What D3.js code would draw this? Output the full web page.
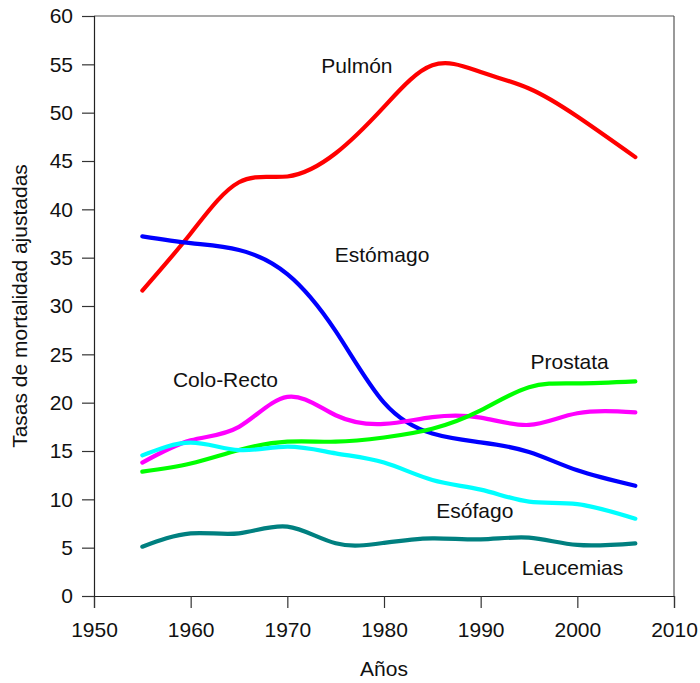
<!DOCTYPE html>
<html>
<head>
<meta charset="utf-8">
<script src="https://cdn.jsdelivr.net/npm/d3@7"></script>
<style>
  body { margin: 0; background: #fff; }
  text { font-family: "Liberation Sans", Arial, sans-serif; }
</style>
</head>
<body>
<div id="chart"></div>
<script>
// data
var years = [1955, 1960, 1965, 1970, 1975, 1980, 1985, 1990, 1995, 2000, 2006];

var pulmon    = [31.6, 37.5, 42.8, 43.4, 45.8, 50.6, 54.9, 54.2, 52.5, 49.6, 45.4];
var estomago  = [37.2, 36.5, 35.8, 33.3, 27.4, 20.0, 16.8, 15.9, 14.9, 13.0, 11.4];
var coloRecto = [13.8, 16.1, 17.5, 20.6, 18.7, 17.8, 18.5, 18.45, 17.7, 18.9, 19.0];
var prostata  = [12.86, 13.7, 15.1, 15.96, 15.96, 16.4, 17.3, 19.2, 21.6, 22.0, 22.2];
var esofago   = [14.55, 15.86, 15.1, 15.45, 14.76, 13.8, 12.0, 11.0, 9.76, 9.5, 8.0];
var leucemias = [5.1, 6.48, 6.48, 7.17, 5.45, 5.5, 5.97, 5.86, 6.03, 5.28, 5.45];

var seriesNames = ["Pulmón", "Estómago", "Colo-Recto", "Prostata", "Esófago", "Leucemias"];
var seriesValues = [pulmon, estomago, coloRecto, prostata, esofago, leucemias];
var seriesColors = ["#ff0000", "#0000ff", "#ff00ff", "#00ff00", "#00ffff", "#008080"];

// where each name is written (year, value)
var labelYears = [1977.2, 1979.8, 1963.6, 1999.2, 1989.4, 1999.5];
var labelValues = [54.1, 34.55, 21.6, 23.5, 8.07, 2.17];

var xTicks = [1950, 1960, 1970, 1980, 1990, 2000, 2010];
var yTicks = [0, 5, 10, 15, 20, 25, 30, 35, 40, 45, 50, 55, 60];

var width = 700, height = 683;
var margin = { top: 16, right: 26, bottom: 87, left: 94 };

var svg = d3.select("#chart")
  .append("svg")
    .attr("width", width)
    .attr("height", height);

var x = d3.scaleLinear()
  .domain([1950, 2010])
  .range([margin.left, width - margin.right]);

var y = d3.scaleLinear()
  .domain([0, 60])
  .range([height - margin.bottom, margin.top]);

// frame: top and right
svg.append("line")
  .attr("x1", x(1950)).attr("x2", x(2010))
  .attr("y1", y(60)).attr("y2", y(60))
  .attr("stroke", "#555").attr("stroke-width", 1.2);
svg.append("line")
  .attr("x1", x(2010)).attr("x2", x(2010))
  .attr("y1", y(60)).attr("y2", y(0))
  .attr("stroke", "#555").attr("stroke-width", 1.2);

var xAxis = svg.append("g")
  .attr("transform", "translate(0," + y(0) + ")")
  .call(d3.axisBottom(x).tickValues(xTicks).tickFormat(d3.format("d")).tickSize(12).tickPadding(14));

var yAxis = svg.append("g")
  .attr("transform", "translate(" + x(1950) + ",0)")
  .call(d3.axisLeft(y).tickValues(yTicks).tickSize(12).tickPadding(9));

[xAxis, yAxis].forEach(function(g) {
  g.select(".domain").attr("stroke", "#222").attr("stroke-width", 1.2);
  g.selectAll(".tick line").attr("stroke", "#333").attr("stroke-width", 1.2);
  g.selectAll(".tick text")
    .attr("fill", "#111")
    .style("font-size", "21px")
    .style("font-family", "'Liberation Sans', Arial, sans-serif");
});

// lines
var line = d3.line()
  .x(function(d) { return x(d[0]); })
  .y(function(d) { return y(d[1]); })
  .curve(d3.curveNatural);

seriesValues.forEach(function(vals, i) {
  var pts = years.map(function(yr, j) { return [yr, vals[j]]; });
  svg.append("path")
    .datum(pts)
    .attr("d", line)
    .attr("fill", "none")
    .attr("stroke", seriesColors[i])
    .attr("stroke-width", 4.2)
    .attr("stroke-linecap", "round")
    .attr("stroke-linejoin", "round");
});

// series names
seriesNames.forEach(function(name, i) {
  svg.append("text")
    .attr("x", x(labelYears[i]))
    .attr("y", y(labelValues[i]))
    .attr("text-anchor", "middle")
    .attr("fill", "#111")
    .style("font-size", "21px")
    .text(name);
});

// axis titles
svg.append("text")
  .attr("x", (x(1950) + x(2010)) / 2)
  .attr("y", 676)
  .attr("text-anchor", "middle")
  .attr("fill", "#111")
  .style("font-size", "21px")
  .text("Años");

svg.append("text")
  .attr("transform", "translate(27," + ((y(0) + y(60)) / 2) + ") rotate(-90)")
  .attr("text-anchor", "middle")
  .attr("fill", "#111")
  .style("font-size", "21px")
  .text("Tasas de mortalidad ajustadas");
</script>
</body>
</html>
